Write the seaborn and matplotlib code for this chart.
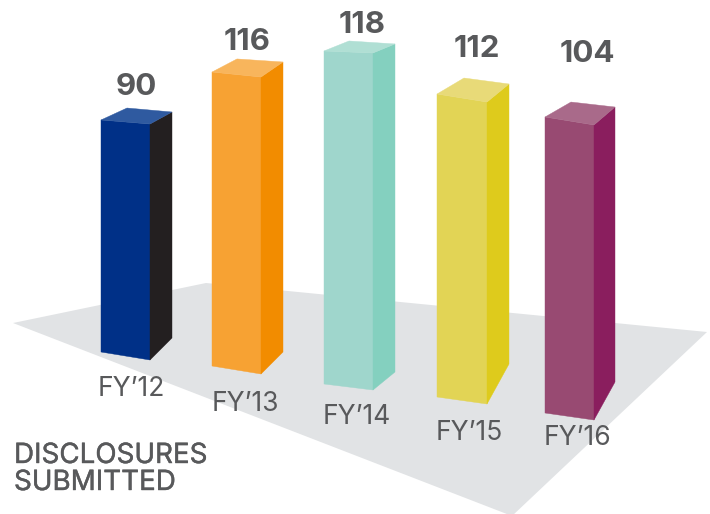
"""
Disclosures submitted per fiscal year - pseudo 3D columns on a grey floor
"""

import matplotlib
matplotlib.use("Agg")
import numpy as np
import matplotlib.pyplot as plt
import matplotlib.patheffects as pe
from matplotlib.patches import Polygon
import seaborn as sns

# ── data ─────────────────────────────────────
categories = ["FY\u201912", "FY\u201913", "FY\u201914", "FY\u201915", "FY\u201916"]
values = [90, 116, 118, 112, 104]

# ── colours ──────────────────────────────────
front_colors = ["#003087", "#F7A233", "#9FD6CC", "#E2D455", "#984A72"]
side_colors = ["#231F20", "#F28C00", "#84D0BF", "#DECB1C", "#8A1E5E"]
top_colors = ["#2F5AA0", "#F8B55C", "#B0DFD4", "#E8DA78", "#A96A8A"]
FLOOR = "#E1E3E5"
TEXT = "#58595B"

# ── perspective layout, in pixels of the 710x514 canvas ──
# x of front left, front right, back right and back left edge per column
edge_x = [
    (101, 150, 172, 127),
    (212, 261, 283, 237),
    (324, 373, 395, 349),
    (437, 487, 509, 464),
    (545, 594, 615, 571),
]
# y where the front left, front right and back right edge meet the floor
base_y = [
    (352, 360, 338),
    (366, 374, 352),
    (384, 390, 372),
    (397, 404, 364),
    (413, 420, 382),
]
# pixels per disclosure along each of the four vertical edges
scale_y = [
    (2.578, 2.622, 2.511, 2.711),
    (2.534, 2.560, 2.500, 2.647),
    (2.822, 2.856, 2.780, 2.907),
    (2.705, 2.696, 2.500, 2.848),
    (2.846, 2.837, 2.644, 2.990),
]
floor_xy = [(13, 323), (206, 283), (707, 332), (512, 516)]
label_xy = [(131, 389), (245, 404), (357, 417), (469, 433), (577, 438)]
value_xy = [(136, 87), (247, 42), (362, 25), (477, 49), (587, 54)]

sns.set_theme(style="white")
plt.rcParams["font.family"] = ["Inter", "DejaVu Sans"]

fig, ax = plt.subplots(figsize=(7.1, 5.14), dpi=100)
fig.subplots_adjust(left=0, right=1, bottom=0, top=1)

# seaborn works out the bar heights, the faces are then projected from them
sns.barplot(x=categories, y=values, ax=ax)
heights = [p.get_height() for p in ax.patches]
for p in list(ax.patches):
    p.remove()

ax.set_xlim(0, 710)
ax.set_ylim(514, 0)
ax.axis("off")

ax.add_patch(Polygon(floor_xy, closed=True, facecolor=FLOOR, edgecolor="none", zorder=1))

for i, h in enumerate(heights):
    xs = edge_x[i]
    tops = [b - h * s for b, s in zip(base_y[i], scale_y[i])]
    front = [(xs[0], base_y[i][0]), (xs[1], base_y[i][1]), (xs[1], tops[1]), (xs[0], tops[0])]
    side = [(xs[1], base_y[i][1]), (xs[2], base_y[i][2]), (xs[2], tops[2]), (xs[1], tops[1])]
    back_top = base_y[i][0] - h * scale_y[i][3]
    top = [(xs[0], tops[0]), (xs[1], tops[1]), (xs[2], tops[2]), (xs[3], back_top)]
    for face, col in zip((front, side, top), (front_colors[i], side_colors[i], top_colors[i])):
        ax.add_patch(Polygon(face, closed=True, facecolor=col, edgecolor=col,
                             linewidth=0.3, zorder=2))

    ax.text(*value_xy[i], str(values[i]), ha="center", va="center",
            fontsize=22.5, fontweight="bold", color=TEXT, zorder=3)
    ax.text(*label_xy[i], categories[i], ha="center", va="center",
            fontsize=19, color=TEXT, zorder=3)

# no medium weight here, a thin stroke thickens the regular one
for y, line in zip((463, 490), ("DISCLOSURES", "SUBMITTED")):
    ax.text(14, y, line, ha="left", va="baseline", fontsize=20, color=TEXT, zorder=3,
            path_effects=[pe.withStroke(linewidth=0.3, foreground=TEXT)])

plt.savefig("out.png", dpi=100, facecolor="white")
